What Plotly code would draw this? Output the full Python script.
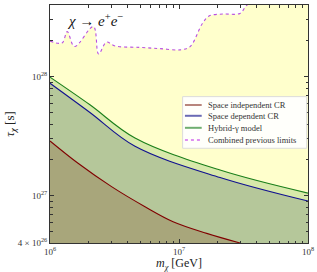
import plotly.graph_objects as go

# Hybrid-gamma model (green)
m_green = [1e6, 2.04e6, 4.56e6, 2.08e7, 1e8]
tau_green = [9.9e27, 5.8e27, 3.05e27, 1.64e27, 1.05e27]

# Space dependent CR (blue)
m_blue = [1e6, 2.04e6, 4.56e6, 2.08e7, 1e8]
tau_blue = [8.8e27, 5.0e27, 2.6e27, 1.42e27, 9.0e26]

# Space independent CR (red)
m_red = [1e6, 1.65e6, 3.0e6, 5.45e6, 9.0e6, 1.64e7, 2.97e7]
tau_red = [2.88e27, 1.87e27, 1.19e27, 8.07e26, 6.04e26, 4.82e26, 4.0e26]

# Combined previous limits (purple dotted)
m_prev = [1e6, 1.24e6, 1.36e6, 1.55e6, 2.17e6, 2.38e6, 2.74e6, 3.19e6, 4.99e6,
          7.13e6, 1.02e7, 1.22e7, 1.51e7, 1.71e7, 2.19e7, 2.97e7, 3.37e7, 4.25e7, 1e8]
tau_prev = [1.99e28, 1.92e28, 2.39e28, 1.79e28, 2.64e28, 1.55e28, 1.95e28, 1.81e28, 1.76e28,
            1.72e28, 1.68e28, 1.79e28, 2.77e28, 3.23e28, 3.36e28, 3.40e28, 4.0e28, 4.5e28, 5.0e28]

names = ["Space independent CR", "Space dependent CR", "Hybrid-γ model", "Combined previous limits"]

FONT = "Liberation Serif, DejaVu Serif, serif"

fig = go.Figure()

# filled regions (back to front)
fills = [
    (m_prev, tau_prev, "#ffffcc"),
    (m_green, tau_green, "#d8e9aa"),
    (m_blue, tau_blue, "#b5c79a"),
    (m_red, tau_red, "#a8a67b"),
]
for xs, ys, col in fills:
    fig.add_trace(go.Scatter(x=xs, y=ys, mode="lines", line=dict(width=0, shape="spline"),
                             fill="tozeroy", fillcolor=col, showlegend=False, hoverinfo="skip"))

# curves
curves = [
    (m_red, tau_red, "#800000", "solid"),
    (m_blue, tau_blue, "#10108f", "solid"),
    (m_green, tau_green, "#1b7f1b", "solid"),
    (m_prev, tau_prev, "#b84ee0", "dot"),
]
for (xs, ys, col, dash), nm in zip(curves, names):
    fig.add_trace(go.Scatter(x=xs, y=ys, mode="lines", name=nm,
                             line=dict(color=col, width=1.1, dash=dash, shape="spline"),
                             showlegend=False, hoverinfo="skip"))

x_ticks = [1e6, 1e7, 1e8]
x_ticktext = ["10<sup>6</sup>", "10<sup>7</sup>", "10<sup>8</sup>"]
x_minor = [k * 10 ** e for e in (6, 7) for k in range(2, 10)]
y_ticks = [4e26, 1e27, 1e28, 4e28]
y_ticktext = ["4 × 10<sup>26</sup>", "10<sup>27</sup>", "10<sup>28</sup>", "4 × 10<sup>28</sup>"]
y_minor = [5e26, 6e26, 7e26, 8e26, 9e26] + [k * 1e27 for k in range(2, 10)] + [2e28, 3e28]

fig.update_xaxes(type="log", range=[6, 8], tickvals=x_ticks, ticktext=x_ticktext, automargin=False,
                 ticks="inside", ticklen=4, tickcolor="#333", mirror="allticks",
                 showline=True, linecolor="#333", linewidth=1, showgrid=False, zeroline=False,
                 tickfont=dict(family=FONT, size=9, color="#333"),
                 minor=dict(tickvals=x_minor, ticks="inside", ticklen=2.5, tickcolor="#333", showgrid=False),
                 title=dict(text="<i>m</i><sub><i>χ</i></sub> [GeV]", font=dict(family=FONT, size=12, color="#222"),
                            standoff=0))
fig.update_yaxes(type="log", range=[26.60206, 28.60206], tickvals=y_ticks, ticktext=y_ticktext, automargin=False,
                 ticks="inside", ticklen=4, tickcolor="#333", mirror="allticks",
                 showline=True, linecolor="#333", linewidth=1, showgrid=False, zeroline=False,
                 tickfont=dict(family=FONT, size=9, color="#333"),
                 minor=dict(tickvals=y_minor, ticks="inside", ticklen=2.5, tickcolor="#333", showgrid=False),
                 title=dict(text="<i>τ</i><sub><i>χ</i></sub> [s]", font=dict(family=FONT, size=13, color="#222"),
                            standoff=0))

fig.add_annotation(text="<i>χ</i> → <i>e</i><sup>+</sup><i>e</i><sup>−</sup>", xref="paper", yref="paper",
                   x=0.06, y=0.985, xanchor="left", yanchor="top", showarrow=False,
                   font=dict(family=FONT, size=15, color="#111"))

# compact legend box (paper coordinates)
fig.add_shape(type="rect", xref="paper", yref="paper", x0=0.514, x1=0.995, y0=0.398, y1=0.615,
              fillcolor="rgba(255,255,255,0.92)", line=dict(color="#dcdcdc", width=1), layer="above")
leg_cols = ["#b8857c", "#6a6ab4", "#6fae6f", "#de90f0"]
leg_dash = ["solid", "solid", "solid", "dot"]
row_y = [0.5798, 0.5345, 0.4840, 0.4330]
for nm, col, dash, yy in zip(names, leg_cols, leg_dash, row_y):
    fig.add_shape(type="line", xref="paper", yref="paper", x0=0.523, x1=0.588, y0=yy, y1=yy,
                  line=dict(color=col, width=2, dash=dash), layer="above")
    fig.add_annotation(text=nm, xref="paper", yref="paper", x=0.603, y=yy, xanchor="left", yanchor="middle",
                       showarrow=False, font=dict(family=FONT, size=8.5, color="#333"))

fig.update_layout(
    width=317, height=272,
    margin=dict(l=50, r=9, t=5, b=29, autoexpand=False),
    paper_bgcolor="white", plot_bgcolor="white",
    showlegend=False,
)

fig.write_html("out.html", config={"displayModeBar": False},
               post_script="document.body.style.margin='0';document.body.style.overflow='hidden';")
